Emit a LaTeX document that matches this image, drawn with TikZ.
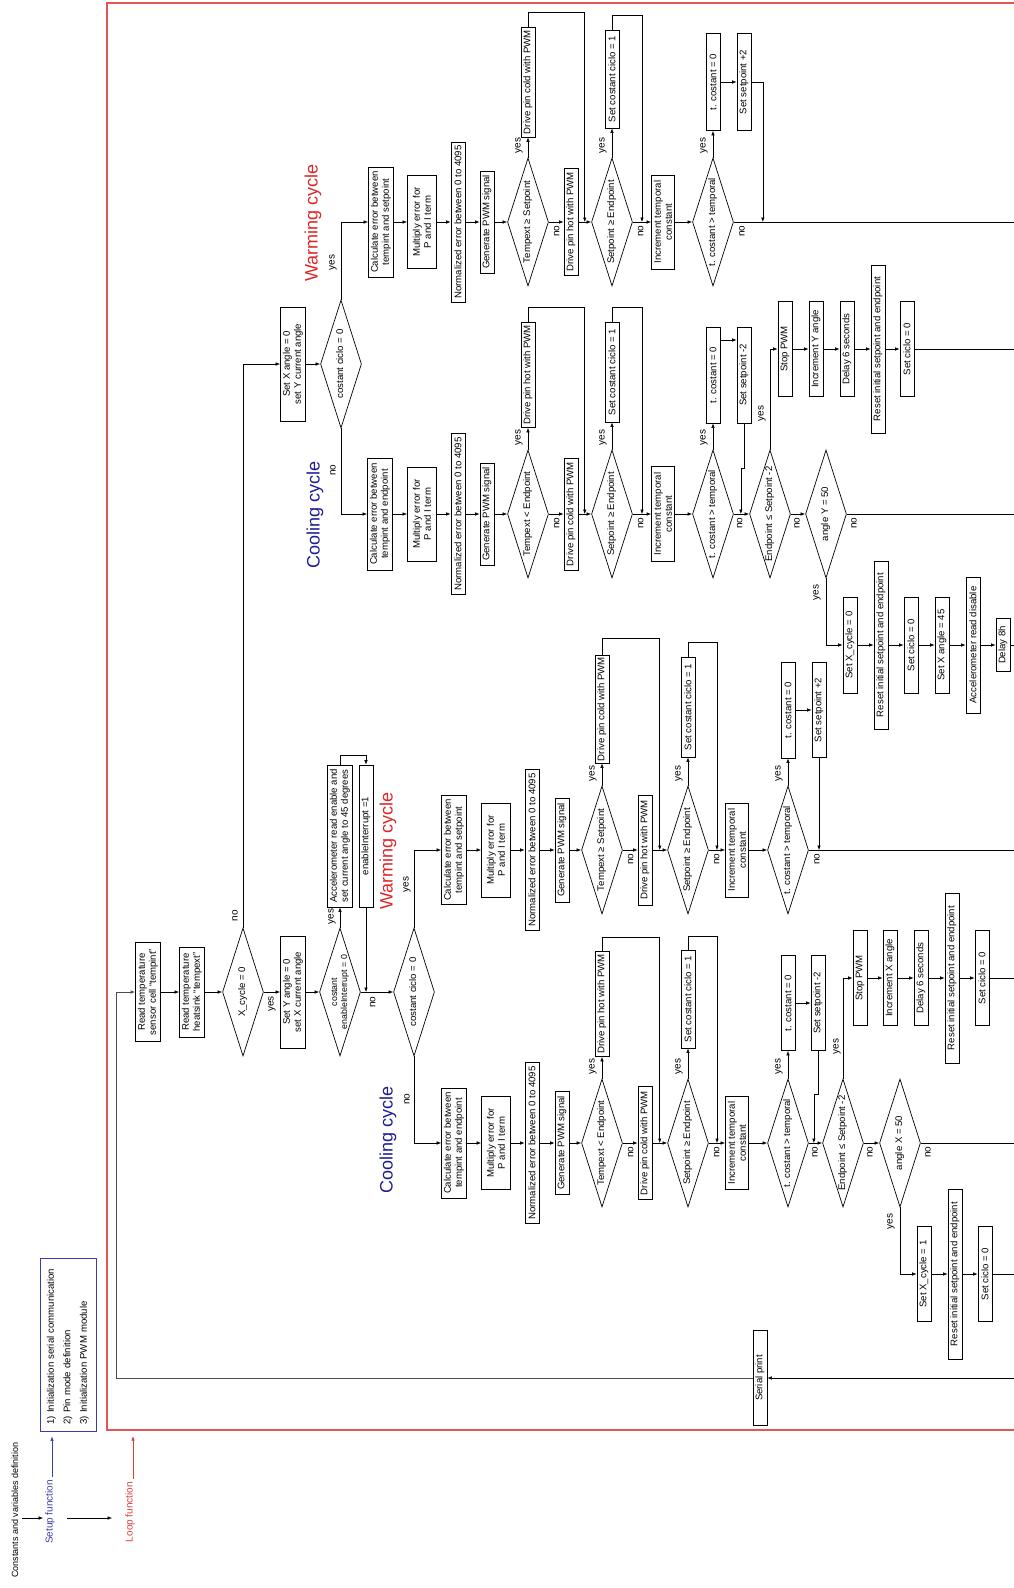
\documentclass[tikz,border=0pt]{standalone}
\usepackage{fontspec}
\setmainfont{Liberation Sans}
\usetikzlibrary{arrows.meta,positioning,calc,shapes.geometric}

\definecolor{warmred}{RGB}{222,38,38}
\definecolor{coolblue}{RGB}{28,28,150}
\definecolor{framered}{RGB}{226,86,86}
\definecolor{setupblue}{RGB}{60,60,170}
\definecolor{looptext}{RGB}{222,60,60}

\newcommand{\flowfont}{\fontsize{9.6}{11}\selectfont}
\newcommand{\dtext}[1]{\makebox[0pt]{\begin{tabular}{@{}c@{}}#1\end{tabular}}}

\tikzset{
  proc/.style={draw, rotate=90, font=\flowfont, align=center, line width=0.7pt,
    inner xsep=2pt, inner ysep=2.5pt, minimum height=14pt},
  pbox/.style={proc, minimum width=#1},
  pbox/.default=95pt,
  dec/.style={draw, diamond, rotate=90, font=\flowfont, line width=0.7pt,
    inner sep=0pt, minimum width=128pt, minimum height=41pt},
  yn/.style={rotate=90, font=\fontsize{10}{12}\selectfont, inner sep=0pt},
  cyclename/.style={rotate=90, font=\fontsize{18}{20}\selectfont, inner sep=0pt},
  flow/.style={-{Latex[length=4.5pt,width=3.5pt]}, line width=0.6pt},
  link/.style={line width=0.6pt},
}

\begin{document}
\begin{tikzpicture}[x=1pt, y=-1pt]
    \useasboundingbox (0,0) rectangle (1014,1588);
    \clip (0,0) rectangle (1014,1588);

    % setup and loop function
    \node[rotate=90, font=\fontsize{9}{11}\selectfont, inner sep=0pt] (defs) at (15,1510) {Constants and variables definition};
    \node[rotate=90, font=\fontsize{10}{12}\selectfont, text=setupblue, inner sep=0pt] (setupf) at (50,1512) {Setup function};
    \node[draw=setupblue, line width=0.8pt, rotate=90, font=\fontsize{9.6}{16.5}\selectfont, align=left,
      text width=160pt, minimum width=173pt, minimum height=56pt, inner sep=0pt] (setupbox) at (68,1344.5)
      {1) Initialization serial communication\\2) Pin mode definition\\3) Initialization PWM module};
    \node[rotate=90, font=\fontsize{10}{12}\selectfont, text=looptext, inner sep=0pt] (loopf) at (130,1512) {Loop function};

    \coordinate (framenw) at (107,3);
    \coordinate (framesw) at (107,1430);
    \draw[framered, line width=1.3pt] (1030,3) -- (framenw) -- (framesw) -- (1030,1430);

    \draw[flow] ($(defs.south)+(3,8)$) -- ($(setupf.north)+(-2,6)$);
    \draw[flow] ($(setupf.south)+(12,6)$) -- ($(loopf.north)+(-13,6)$);
    \draw[flow, setupblue] ($(setupf.east)+(2,-3)$) -- ($(setupf.east |- setupbox.west)+(2,5)$);
    \draw[flow, looptext] ($(loopf.east)+(3,-3)$) -- ($(loopf.east |- framesw)+(3,6)$);

    % main line
    \node[pbox=99pt] (readint) at (148,992) {Read temperature\\sensor cell “tempint”};
    \node[pbox=90pt] (readext) at (192,992) {Read temperature\\heatsink “tempext”};
    \node[dec] (xcyc) at (243,992) {\dtext{X\_cycle = 0}};
    \node[pbox=112pt] (sety) at (293,992) {Set Y angle = 0\\set X current angle};
    \node[dec, font=\fontsize{8.8}{10}\selectfont] (enint) at (340,992) {\dtext{costant\\enableInterrupt = 0}};
    \node[pbox=142pt] (accon) at (340,836) {Accelerometer read enable and\\set current angle to 45 degrees};
    \node[pbox=142pt] (enone) at (366,836) {enableInterrupt =1};
    \node[dec] (cicloB) at (414,992) {\dtext{costant ciclo = 0}};
    \node[pbox=114pt] (setx) at (293,364) {Set X angle = 0\\set Y current angle};
    \node[dec] (cicloA) at (341,364) {\dtext{costant ciclo = 0}};
    \node[pbox] (serial) at (760,1378) {Serial print};

    \node[cyclename, text=warmred] (warmA) at (313,223) {Warming cycle};
    \node[cyclename, text=coolblue] (coolA) at (315,515) {Cooling cycle};
    \node[cyclename, text=warmred] (warmB) at (388,851) {Warming cycle};
    \node[cyclename, text=coolblue] (coolB) at (388,1140) {Cooling cycle};

    \coordinate (loopcorner) at (116,992);
    \coordinate (serialin) at (1030,1378);
    \draw[flow, draw=black!70, line width=1pt] (serial.north) -| (loopcorner) -- (readint.north);
    \draw[flow] (serialin) -- (serial.south);

    \draw[flow] (readint.south) -- (readext.north);
    \draw[flow] (readext.south) -- (xcyc.north);
    \draw[flow] (xcyc.south) -- (sety.north);
    \draw[flow] (xcyc.east) |- (setx.north);
    \draw[flow] (sety.south) -- (enint.north);
    \draw[flow] (enint.east) -- (accon.west);
    \draw[flow] (accon.east) -- ++(0,-9) -| (enone.east);
    \draw[flow] (enone.west) -- (enone.west |- enint.south);
    \draw[flow] (enint.south) -- (cicloB.north);
    \draw[flow] (setx.south) -- (cicloA.north);

    \node[yn] (nXc) at ($(xcyc.east)+(-8,-12)$) {no};
    \node[yn] (yXc) at ($(xcyc.south)+(8,12)$) {yes};
    \node[yn] (yEi) at ($(enint.east)+(-8,-11)$) {yes};
    \node[yn] (nEi) at ($(enint.south)+(12,10)$) {no};
    \node[yn] (yCA) at ($(cicloA.east)+(-8,-37)$) {yes};
    \node[yn] (nCA) at ($(cicloA.west)+(-8,42)$) {no};
    \node[yn] (yCB) at ($(cicloB.east)+(-7,-43)$) {yes};
    \node[yn] (nCB) at ($(cicloB.west)+(-7,43)$) {no};

    % warming cycle, X angle side
    \node[pbox=110pt] (wAcalc) at (381,222) {Calculate error between\\tempint and setpoint};
    \node[pbox=93pt, minimum height=29pt] (wAmul) at (422,222) {Multiply error for\\P and I term};
    \node[pbox=160pt] (wAnorm) at (458,222) {Normalized error between 0 to 4095};
    \node[pbox=102pt] (wAgen) at (487,222) {Generate PWM signal};
    \node[dec] (wAd1) at (528,222) {\dtext{Tempext ≥ Setpoint}};
    \node[pbox=110pt] (wAcold) at (528,82) {Drive pin cold with PWM};
    \node[pbox=107pt] (wAhot) at (571,222) {Drive pin hot with PWM};
    \node[dec] (wAd2) at (612,222) {\dtext{Setpoint ≥ Endpoint}};
    \node[pbox=98pt] (wAset) at (612,79) {Set costant ciclo = 1};
    \node[pbox=94pt] (wAinc) at (663,222) {Increment temporal\\constant};
    \node[dec] (wAd3) at (713,222) {\dtext{t. costant > temporal}};
    \node[pbox=97pt] (wAtc) at (713,82) {t. costant = 0};
    \node[pbox=97pt] (wAsp) at (744,82) {Set setpoint +2};
    \coordinate (endwA) at (1030,222);

    \draw[flow] (cicloA.east) |- (wAcalc.north);
    \draw[flow] (wAcalc.south) -- (wAmul.north);
    \draw[flow] (wAmul.south) -- (wAnorm.north);
    \draw[flow] (wAnorm.south) -- (wAgen.north);
    \draw[flow] (wAgen.south) -- (wAd1.north);
    \draw[flow] (wAd1.east) -- (wAcold.west);
    \draw[flow] (wAd1.south) -- (wAhot.north);
    \draw[flow] (wAhot.south) -- (wAd2.north);
    \draw[flow] (wAcold.east) -- ++(0,-14) -| ($(wAhot.south)!0.5!(wAd2.north)$);
    \draw[flow] (wAd2.east) -- (wAset.west);
    \draw[flow] (wAset.east) -- ++(0,-14) -| ($(wAd2.south)!0.5!(wAinc.north)$);
    \draw[flow] (wAd2.south) -- (wAinc.north);
    \draw[flow] (wAinc.south) -- (wAd3.north);
    \draw[flow] (wAd3.east) -- (wAtc.west);
    \draw[flow] (wAtc.south) -- (wAsp.north);
    \draw[flow] (wAsp.south) -| ($(wAd3.south)+(29,0)$);
    \draw[link] (wAd3.south) -- (endwA);

    \node[yn] (ywAd1) at ($(wAd1.east)+(-9,-12)$) {yes};
    \node[yn] (nwAd1) at ($(wAd1.south)+(8,9)$) {no};
    \node[yn] (ywAd2) at ($(wAd2.east)+(-9,-12)$) {yes};
    \node[yn] (nwAd2) at ($(wAd2.south)+(8,9)$) {no};
    \node[yn] (ywAd3) at ($(wAd3.east)+(-9,-12)$) {yes};
    \node[yn] (nwAd3) at ($(wAd3.south)+(8,9)$) {no};

    % cooling cycle, X angle side
    \node[pbox=112pt] (cAcalc) at (380,514) {Calculate error between\\tempint and endpoint};
    \node[pbox=94pt, minimum height=29pt] (cAmul) at (422,514) {Multiply error for\\P and I term};
    \node[pbox=161pt] (cAnorm) at (458,514) {Normalized error between 0 to 4095};
    \node[pbox=102pt] (cAgen) at (487,514) {Generate PWM signal};
    \node[dec] (cAd1) at (528,514) {\dtext{Tempext < Endpoint}};
    \node[pbox=105pt] (cAhot) at (528,375) {Drive pin hot with PWM};
    \node[pbox=112pt] (cAcold) at (571,514) {Drive pin cold with PWM};
    \node[dec] (cAd2) at (612,514) {\dtext{Setpoint ≥ Endpoint}};
    \node[pbox=100pt] (cAset) at (612,372) {Set costant ciclo = 1};
    \node[pbox=95pt] (cAinc) at (663,514) {Increment temporal\\constant};
    \node[dec] (cAd3) at (713,514) {\dtext{t. costant > temporal}};
    \node[pbox=96pt] (cAtc) at (713,375) {t. costant = 0};
    \node[pbox=96pt] (cAsp) at (744,375) {Set setpoint -2};
    \node[dec] (cAd4) at (770,514) {\dtext{Endpoint ≤ Setpoint -2}};
    \node[pbox] (cAstop) at (785,349) {Stop PWM};
    \node[pbox] (cAincy) at (816,349) {Increment Y angle};
    \node[pbox] (cAdel) at (847,349) {Delay 6 seconds};
    \node[pbox=168pt] (cAreset) at (878,349) {Reset initial setpoint and endpoint};
    \node[pbox] (cAciclo) at (907,349) {Set ciclo = 0};
    \node[dec] (cAd5) at (826,514) {\dtext{angle Y = 50}};
    \node[pbox=96pt] (cAxcyc) at (850,645) {Set X\_cycle = 0};
    \node[pbox=168pt] (cAreset2) at (881,645) {Reset initial setpoint and endpoint};
    \node[pbox=96pt] (cAciclo2) at (911,645) {Set ciclo = 0};
    \node[pbox=96pt] (cAxang) at (942,645) {Set X angle = 45};
    \node[pbox=136pt] (cAaccoff) at (973,645) {Accelerometer read disable};
    \node[pbox=53pt] (cAdelay) at (1003,645) {Delay 8h};
    \coordinate (endcA1) at (1030,349);
    \coordinate (endcA2) at (1030,514);
    \coordinate (endcA3) at (1030,645);

    \draw[flow] (cicloA.west) |- (cAcalc.north);
    \draw[flow] (cAcalc.south) -- (cAmul.north);
    \draw[flow] (cAmul.south) -- (cAnorm.north);
    \draw[flow] (cAnorm.south) -- (cAgen.north);
    \draw[flow] (cAgen.south) -- (cAd1.north);
    \draw[flow] (cAd1.east) -- (cAhot.west);
    \draw[flow] (cAd1.south) -- (cAcold.north);
    \draw[flow] (cAcold.south) -- (cAd2.north);
    \draw[flow] (cAhot.east) -- ++(0,-15) -| ($(cAcold.south)!0.5!(cAd2.north)$);
    \draw[flow] (cAd2.east) -- (cAset.west);
    \draw[flow] (cAset.east) -- ++(0,-14) -| ($(cAd2.south)!0.5!(cAinc.north)$);
    \draw[flow] (cAd2.south) -- (cAinc.north);
    \draw[flow] (cAinc.south) -- (cAd3.north);
    \draw[flow] (cAd3.east) -- (cAtc.west);
    \draw[flow] ($(cAtc.south)+(0,-35)$) -- ($(cAsp.north)+(0,-35)$);
    \draw[flow] (cAsp.west) -- ++(0,45) -| ($(cAd3.south)+(7,0)$);
    \draw[flow] (cAd3.south) -- (cAd4.north);
    \draw[flow] (cAd4.east) |- (cAstop.north);
    \draw[flow] (cAstop.south) -- (cAincy.north);
    \draw[flow] (cAincy.south) -- (cAdel.north);
    \draw[flow] (cAdel.south) -- (cAreset.north);
    \draw[flow] (cAreset.south) -- (cAciclo.north);
    \draw[link] (cAciclo.south) -- (endcA1);
    \draw[flow] (cAd4.south) -- (cAd5.north);
    \draw[link] (cAd5.south) -- (endcA2);
    \draw[flow] (cAd5.west) |- (cAxcyc.north);
    \draw[flow] (cAxcyc.south) -- (cAreset2.north);
    \draw[flow] (cAreset2.south) -- (cAciclo2.north);
    \draw[flow] (cAciclo2.south) -- (cAxang.north);
    \draw[flow] (cAxang.south) -- (cAaccoff.north);
    \draw[flow] (cAaccoff.south) -- (cAdelay.north);
    \draw[link] (cAdelay.south) -- (endcA3);

    \node[yn] (ycAd1) at ($(cAd1.east)+(-9,-12)$) {yes};
    \node[yn] (ncAd1) at ($(cAd1.south)+(8,9)$) {no};
    \node[yn] (ycAd2) at ($(cAd2.east)+(-9,-12)$) {yes};
    \node[yn] (ncAd2) at ($(cAd2.south)+(8,9)$) {no};
    \node[yn] (ycAd3) at ($(cAd3.east)+(-9,-12)$) {yes};
    \node[yn] (ncAd3) at ($(cAd3.south)+(6,9)$) {no};
    \node[yn] (ycAd4) at ($(cAd4.east)+(-8,-36)$) {yes};
    \node[yn] (ncAd4) at ($(cAd4.south)+(6,9)$) {no};
    \node[yn] (ycAd5) at ($(cAd5.west)+(-9,14)$) {yes};
    \node[yn] (ncAd5) at ($(cAd5.south)+(7,9)$) {no};

    % warming cycle, Y angle side
    \node[pbox=109pt] (wBcalc) at (454,850) {Calculate error between\\tempint and setpoint};
    \node[pbox=94pt, minimum height=29pt] (wBmul) at (496,850) {Multiply error for\\P and I term};
    \node[pbox=161pt] (wBnorm) at (532,850) {Normalized error between 0 to 4095};
    \node[pbox=104pt] (wBgen) at (562,850) {Generate PWM signal};
    \node[dec] (wBd1) at (602,850) {\dtext{Tempext ≥ Setpoint}};
    \node[pbox=108pt] (wBcold) at (602,709) {Drive pin cold with PWM};
    \node[pbox=110pt] (wBhot) at (645,850) {Drive pin hot with PWM};
    \node[dec] (wBd2) at (688,850) {\dtext{Setpoint ≥ Endpoint}};
    \node[pbox=100pt] (wBset) at (688,707) {Set costant ciclo = 1};
    \node[pbox=94pt] (wBinc) at (737,850) {Increment temporal\\constant};
    \node[dec] (wBd3) at (788,850) {\dtext{t. costant > temporal}};
    \node[pbox=96pt] (wBtc) at (788,710) {t. costant = 0};
    \node[pbox=95pt] (wBsp) at (819,710) {Set setpoint +2};
    \coordinate (endwB) at (1030,850);

    \draw[flow] (cicloB.east) |- (wBcalc.north);
    \draw[flow] (wBcalc.south) -- (wBmul.north);
    \draw[flow] (wBmul.south) -- (wBnorm.north);
    \draw[flow] (wBnorm.south) -- (wBgen.north);
    \draw[flow] (wBgen.south) -- (wBd1.north);
    \draw[flow] (wBd1.east) -- (wBcold.west);
    \draw[flow] (wBd1.south) -- (wBhot.north);
    \draw[flow] (wBhot.south) -- (wBd2.north);
    \draw[flow] (wBcold.east) -- ++(0,-16) -| ($(wBhot.south)!0.5!(wBd2.north)$);
    \draw[flow] (wBd2.east) -- (wBset.west);
    \draw[flow] (wBset.east) -- ++(0,-14) -| ($(wBd2.south)!0.5!(wBinc.north)$);
    \draw[flow] (wBd2.south) -- (wBinc.north);
    \draw[flow] (wBinc.south) -- (wBd3.north);
    \draw[flow] (wBd3.east) -- (wBtc.west);
    \draw[flow] (wBtc.south) -- (wBsp.north);
    \draw[flow] (wBsp.west) -- (wBsp.west |- wBd3.south);
    \draw[link] (wBd3.south) -- (endwB);

    \node[yn] (ywBd1) at ($(wBd1.east)+(-9,-12)$) {yes};
    \node[yn] (nwBd1) at ($(wBd1.south)+(8,9)$) {no};
    \node[yn] (ywBd2) at ($(wBd2.east)+(-9,-12)$) {yes};
    \node[yn] (nwBd2) at ($(wBd2.south)+(8,9)$) {no};
    \node[yn] (ywBd3) at ($(wBd3.east)+(-9,-12)$) {yes};
    \node[yn] (nwBd3) at ($(wBd3.south)+(8,9)$) {no};

    % cooling cycle, Y angle side
    \node[pbox=110pt] (cBcalc) at (454,1143) {Calculate error between\\tempint and endpoint};
    \node[pbox=93pt, minimum height=29pt] (cBmul) at (496,1143) {Multiply error for\\P and I term};
    \node[pbox=161pt] (cBnorm) at (532,1143) {Normalized error between 0 to 4095};
    \node[pbox=103pt] (cBgen) at (562,1143) {Generate PWM signal};
    \node[dec] (cBd1) at (602,1143) {\dtext{Tempext < Endpoint}};
    \node[pbox=105pt] (cBhot) at (602,1004) {Drive pin hot with PWM};
    \node[pbox=113pt] (cBcold) at (645,1143) {Drive pin cold with PWM};
    \node[dec] (cBd2) at (688,1143) {\dtext{Setpoint ≥ Endpoint}};
    \node[pbox=98pt] (cBset) at (688,999) {Set costant ciclo = 1};
    \node[pbox=93pt] (cBinc) at (737,1143) {Increment temporal\\constant};
    \node[dec] (cBd3) at (788,1143) {\dtext{t. costant > temporal}};
    \node[pbox] (cBtc) at (788,1003) {t. costant = 0};
    \node[pbox] (cBsp) at (818,1003) {Set setpoint -2};
    \node[dec] (cBd4) at (843,1143) {\dtext{Endpoint ≤ Setpoint -2}};
    \node[pbox] (cBstop) at (860,978) {Stop PWM};
    \node[pbox] (cBincx) at (890,978) {Increment X angle};
    \node[pbox] (cBdel) at (921,978) {Delay 6 seconds};
    \node[pbox=170pt] (cBreset) at (952,978) {Reset initial setpoint and endpoint};
    \node[pbox] (cBciclo) at (982,978) {Set ciclo = 0};
    \node[dec] (cBd5) at (900,1143) {\dtext{angle X = 50}};
    \node[pbox] (cBxcyc) at (924,1274) {Set X\_cycle = 1};
    \node[pbox=170pt] (cBreset2) at (955,1274) {Reset initial setpoint and endpoint};
    \node[pbox] (cBciclo2) at (985,1274) {Set ciclo = 0};
    \coordinate (endcB1) at (1030,978);
    \coordinate (endcB2) at (1030,1143);
    \coordinate (endcB3) at (1030,1274);

    \draw[flow] (cicloB.west) |- (cBcalc.north);
    \draw[flow] (cBcalc.south) -- (cBmul.north);
    \draw[flow] (cBmul.south) -- (cBnorm.north);
    \draw[flow] (cBnorm.south) -- (cBgen.north);
    \draw[flow] (cBgen.south) -- (cBd1.north);
    \draw[flow] (cBd1.east) -- (cBhot.west);
    \draw[flow] (cBd1.south) -- (cBcold.north);
    \draw[flow] (cBcold.south) -- (cBd2.north);
    \draw[flow] (cBhot.east) -- ++(0,-14) -| ($(cBcold.south)!0.5!(cBd2.north)$);
    \draw[flow] (cBd2.east) -- (cBset.west);
    \draw[flow] (cBset.east) -- ++(0,-13) -| ($(cBd2.south)!0.5!(cBinc.north)$);
    \draw[flow] (cBd2.south) -- (cBinc.north);
    \draw[flow] (cBinc.south) -- (cBd3.north);
    \draw[flow] (cBd3.east) -- (cBtc.west);
    \draw[flow] (cBtc.south) -- (cBsp.north);
    \draw[flow] (cBsp.west) -- ++(0,43) -| ($(cBd3.south)+(5,0)$);
    \draw[flow] (cBd3.south) -- (cBd4.north);
    \draw[flow] (cBd4.east) |- (cBstop.north);
    \draw[flow] (cBstop.south) -- (cBincx.north);
    \draw[flow] (cBincx.south) -- (cBdel.north);
    \draw[flow] (cBdel.south) -- (cBreset.north);
    \draw[flow] (cBreset.south) -- (cBciclo.north);
    \draw[link] (cBciclo.south) -- (endcB1);
    \draw[flow] (cBd4.south) -- (cBd5.north);
    \draw[link] (cBd5.south) -- (endcB2);
    \draw[flow] (cBd5.west) |- (cBxcyc.north);
    \draw[flow] (cBxcyc.south) -- (cBreset2.north);
    \draw[flow] (cBreset2.south) -- (cBciclo2.north);
    \draw[link] (cBciclo2.south) -- (endcB3);

    \node[yn] (ycBd1) at ($(cBd1.east)+(-9,-12)$) {yes};
    \node[yn] (ncBd1) at ($(cBd1.south)+(8,9)$) {no};
    \node[yn] (ycBd2) at ($(cBd2.east)+(-9,-12)$) {yes};
    \node[yn] (ncBd2) at ($(cBd2.south)+(8,9)$) {no};
    \node[yn] (ycBd3) at ($(cBd3.east)+(-9,-12)$) {yes};
    \node[yn] (ncBd3) at ($(cBd3.south)+(6,9)$) {no};
    \node[yn] (ycBd4) at ($(cBd4.east)+(-6,-32)$) {yes};
    \node[yn] (ncBd4) at ($(cBd4.south)+(6,9)$) {no};
    \node[yn] (ycBd5) at ($(cBd5.west)+(-9,14)$) {yes};
    \node[yn] (ncBd5) at ($(cBd5.south)+(7,9)$) {no};
\end{tikzpicture}
\end{document}
